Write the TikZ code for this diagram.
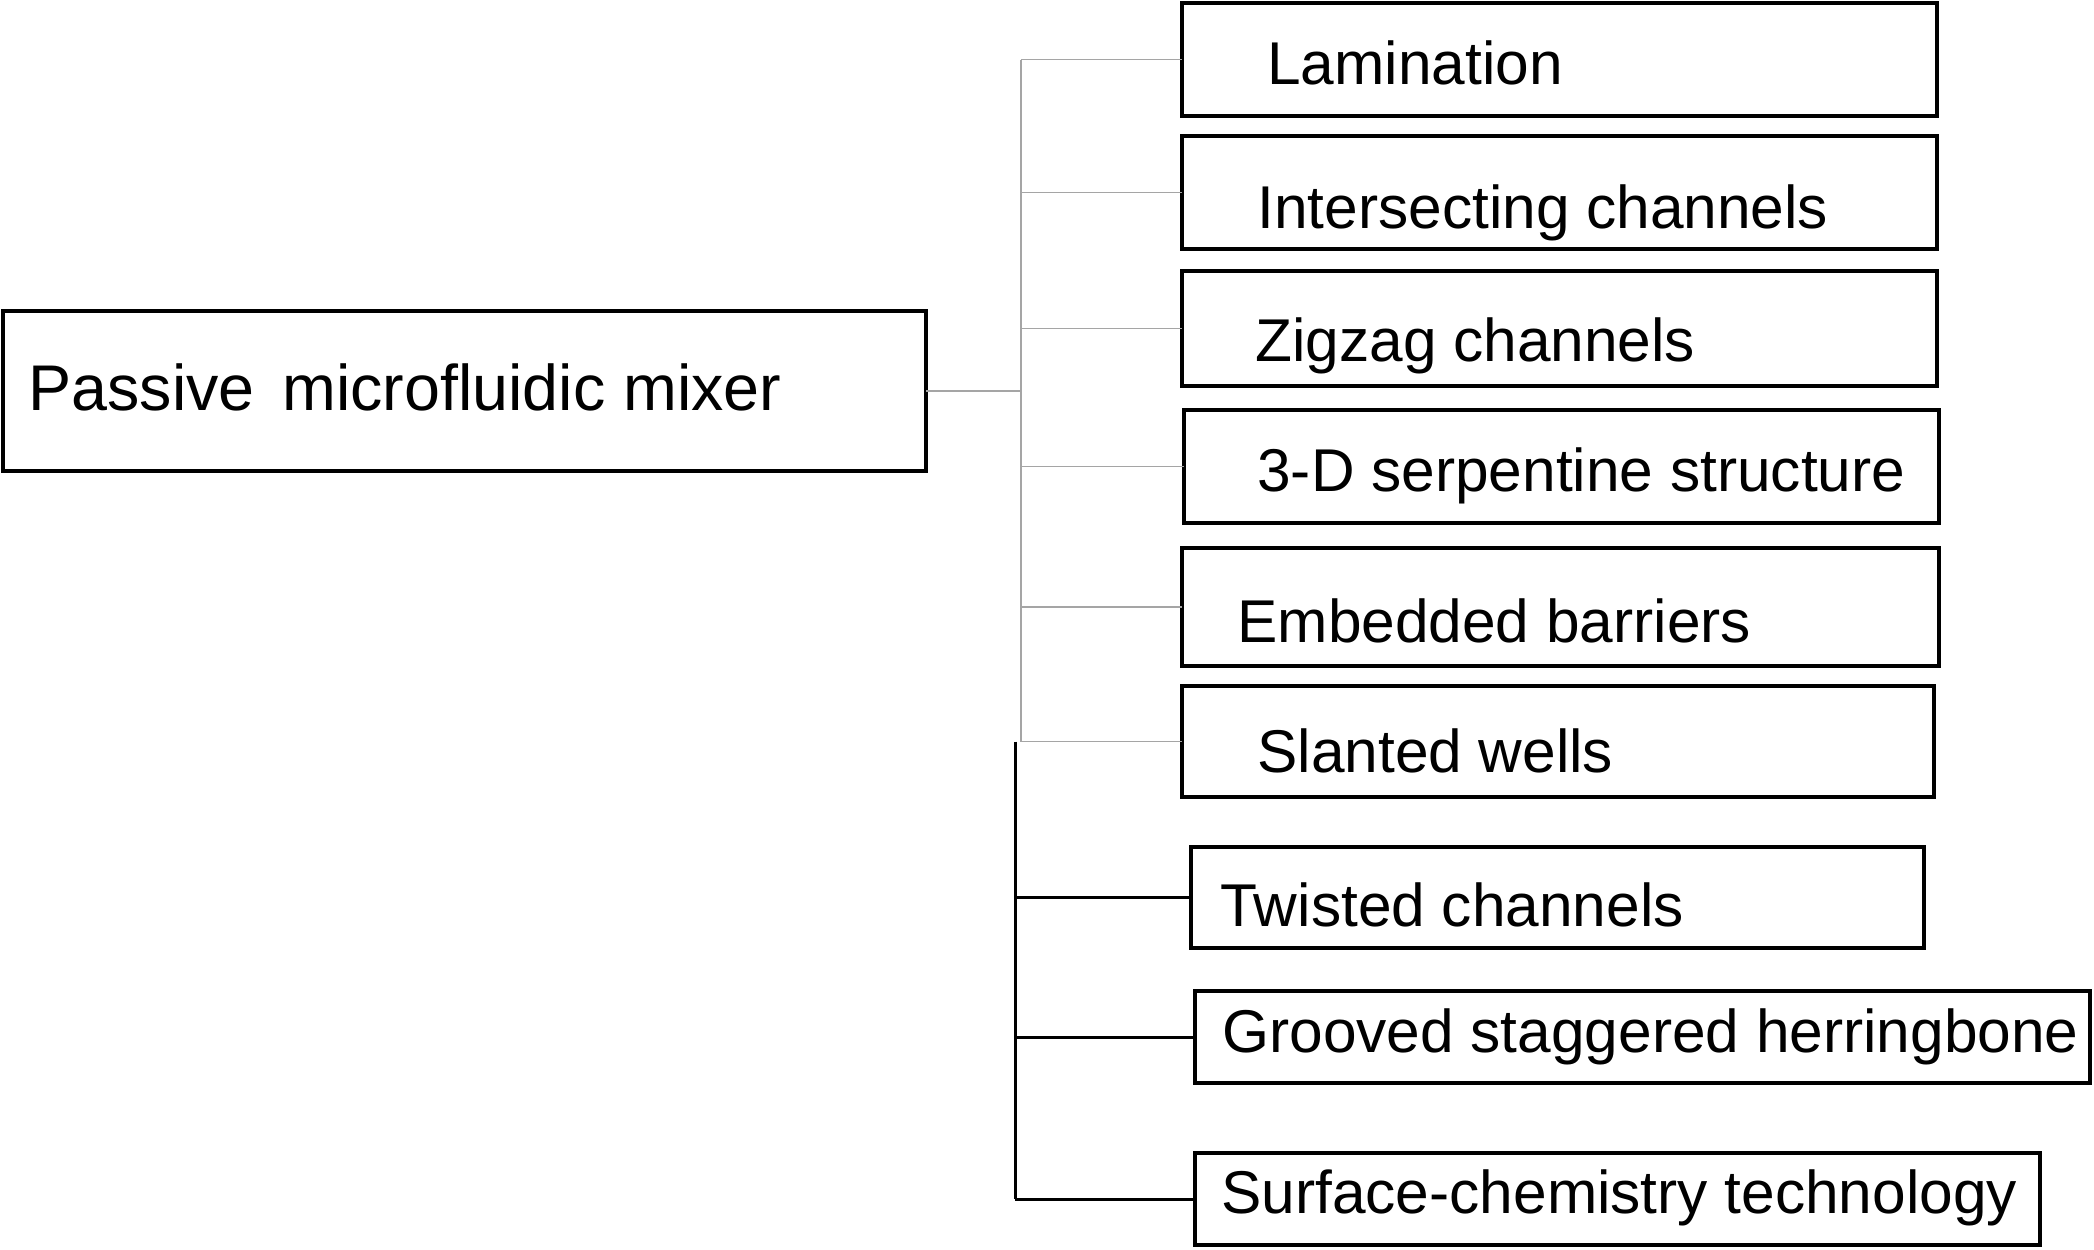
\documentclass[tikz,border=0pt]{standalone}
\usepackage{fontspec}
\setmainfont{Liberation Sans}
\usetikzlibrary{fit}
\begin{document}
\begin{tikzpicture}[x=0.5pt,y=-0.5pt,
  box/.style={draw=black,line width=2.4pt,inner sep=0pt,outer sep=0pt},
  lbl/.style={anchor=base west,inner sep=0pt,font=\fontsize{30.2}{36}\selectfont},
  mainlbl/.style={anchor=base west,inner sep=0pt,font=\fontsize{32.3}{38}\selectfont},
  gconn/.style={draw={rgb,255:red,165;green,165;blue,165},line width=0.75pt},
  bconn/.style={draw=black,line width=1.5pt}]
\useasboundingbox (0,0) rectangle (2094,1249);
% main box
\node[box,fit={(3,311) (926,471)}] (main) {};
\node[mainlbl] (maint) at (28,410) {Passive\hspace{14pt}microfluidic mixer};
% right boxes
\node[box,fit={(1182,3) (1937,116)}] (lam) {};
\node[lbl] (lamt) at (1267,84) {Lamination};
\node[box,fit={(1182,136) (1937,249)}] (int) {};
\node[lbl] (intt) at (1257,228) {Intersecting channels};
\node[box,fit={(1182,271) (1937,386)}] (zig) {};
\node[lbl] (zigt) at (1255,361) {Zigzag channels};
\node[box,fit={(1184,410) (1939,523)}] (ser) {};
\node[lbl] (sert) at (1257,491) {3-D serpentine structure};
\node[box,fit={(1182,548) (1939,666)}] (emb) {};
\node[lbl] (embt) at (1237,642) {Embedded barriers};
\node[box,fit={(1182,686) (1934,797)}] (sla) {};
\node[lbl] (slat) at (1257,772) {Slanted wells};
\node[box,fit={(1191,847) (1924,948)}] (twi) {};
\node[lbl] (twit) at (1220,926) {Twisted channels};
\node[box,fit={(1195,991) (2090,1083)}] (gro) {};
\node[lbl] (grot) at (1222,1052) {Grooved staggered herringbone};
\node[box,fit={(1195,1153) (2040,1245)}] (sur) {};
\node[lbl] (surt) at (1221,1213) {Surface-chemistry technology};
% trunks
\coordinate (tg) at (1021,0);
\coordinate (tb) at (1015,0);
\draw[gconn] (main.east) -- (tg |- main.east);
\draw[gconn] (tg |- lam.west) -- (tg |- sla.west);
\foreach \n in {lam,int,zig,ser,emb,sla}
  \draw[gconn] (tg |- \n.west) -- (\n.west);
\draw[bconn] (tb |- sla.west) -- (tb |- sur.west);
\foreach \n in {twi,gro,sur}
  \draw[bconn] (tb |- \n.west) -- (\n.west);
\end{tikzpicture}
\end{document}
